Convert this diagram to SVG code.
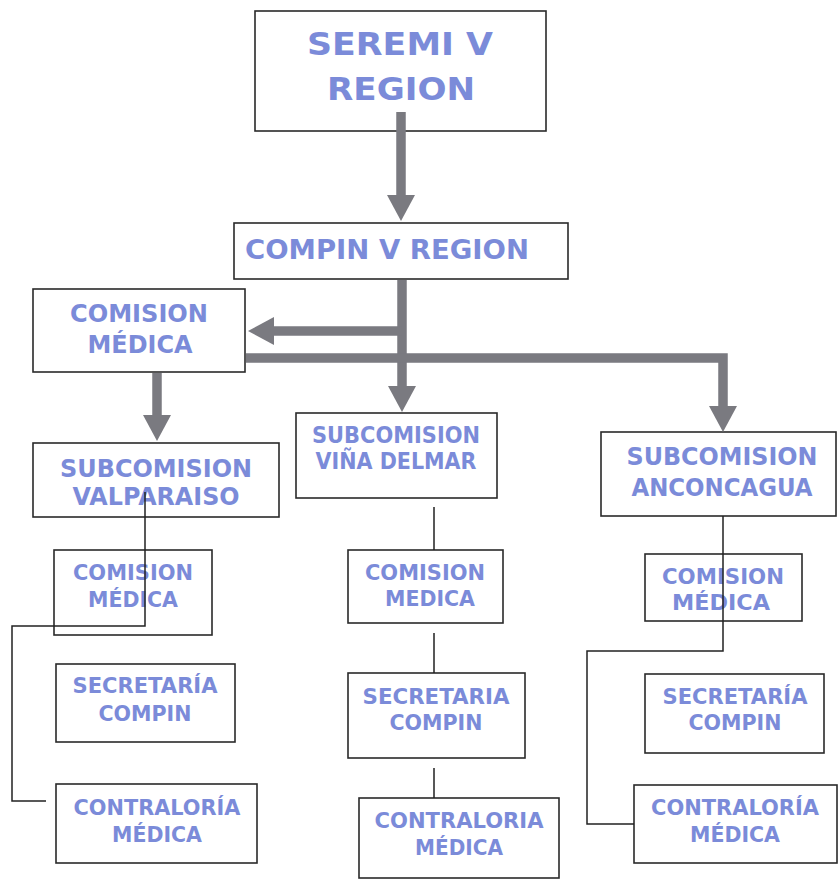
<svg xmlns="http://www.w3.org/2000/svg" width="838" height="880" viewBox="0 0 838 880">
<style>
.box{fill:#fff;stroke:#2a2a2a;stroke-width:1.6}
.t{font-family:"DejaVu Sans","Liberation Sans",sans-serif;font-weight:bold;fill:#7b8bd9;text-anchor:middle}
.big{stroke:#7a7a80;stroke-width:9.5;fill:none;stroke-linejoin:miter}
.thin{stroke:#222;stroke-width:1.5;fill:none}
</style>
<defs>
<marker id="ah" markerUnits="userSpaceOnUse" viewBox="0 0 26 28" markerWidth="26" markerHeight="28" refX="0" refY="14" orient="auto">
<path d="M0,0 L26,14 L0,28 Z" fill="#7a7a80"/>
</marker>
</defs>
<rect width="838" height="880" fill="#fff"/>
<g id="seremi">
<rect class="box" x="255" y="11" width="291" height="120"/>
<text class="t" x="400" y="55" font-size="32" textLength="186" lengthAdjust="spacingAndGlyphs">SEREMI V</text>
<text class="t" x="401" y="100" font-size="32" textLength="148" lengthAdjust="spacingAndGlyphs">REGION</text>
</g>
<g id="compin">
<rect class="box" x="234" y="223" width="334" height="56"/>
<text class="t" x="387" y="259" font-size="27" textLength="284" lengthAdjust="spacingAndGlyphs">COMPIN V REGION</text>
</g>
<g id="comision-top">
<rect class="box" x="33" y="289" width="212" height="83"/>
<text class="t" x="139" y="322" font-size="25" textLength="138" lengthAdjust="spacingAndGlyphs">COMISION</text>
<text class="t" x="140" y="353" font-size="25" textLength="105" lengthAdjust="spacingAndGlyphs">MÉDICA</text>
</g>
<g id="sub-valparaiso">
<rect class="box" x="33" y="443" width="246" height="74"/>
<text class="t" x="156" y="477" font-size="25" textLength="192" lengthAdjust="spacingAndGlyphs">SUBCOMISION</text>
<text class="t" x="156" y="505" font-size="25" textLength="167" lengthAdjust="spacingAndGlyphs">VALPARAISO</text>
</g>
<g id="sub-vina">
<rect class="box" x="296" y="413" width="201" height="85"/>
<text class="t" x="396" y="443" font-size="23" textLength="168" lengthAdjust="spacingAndGlyphs">SUBCOMISION</text>
<text class="t" x="396" y="469" font-size="23" textLength="161" lengthAdjust="spacingAndGlyphs">VIÑA DELMAR</text>
</g>
<g id="sub-anconcagua">
<rect class="box" x="601" y="432" width="235" height="84"/>
<text class="t" x="722" y="465" font-size="25" textLength="191" lengthAdjust="spacingAndGlyphs">SUBCOMISION</text>
<text class="t" x="722" y="496" font-size="25" textLength="181" lengthAdjust="spacingAndGlyphs">ANCONCAGUA</text>
</g>
<g id="v-comision">
<rect class="box" x="54" y="550" width="158" height="85"/>
<text class="t" x="133" y="580" font-size="21" textLength="120" lengthAdjust="spacingAndGlyphs">COMISION</text>
<text class="t" x="133" y="607" font-size="21" textLength="90" lengthAdjust="spacingAndGlyphs">MÉDICA</text>
</g>
<g id="v-secretaria">
<rect class="box" x="56" y="664" width="179" height="78"/>
<text class="t" x="145" y="693" font-size="21" textLength="145" lengthAdjust="spacingAndGlyphs">SECRETARÍA</text>
<text class="t" x="145" y="721" font-size="21" textLength="93" lengthAdjust="spacingAndGlyphs">COMPIN</text>
</g>
<g id="v-contraloria">
<rect class="box" x="56" y="784" width="201" height="79"/>
<text class="t" x="157" y="815" font-size="21" textLength="167" lengthAdjust="spacingAndGlyphs">CONTRALORÍA</text>
<text class="t" x="157" y="842" font-size="21" textLength="90" lengthAdjust="spacingAndGlyphs">MÉDICA</text>
</g>
<g id="vd-comision">
<rect class="box" x="348" y="550" width="155" height="73"/>
<text class="t" x="425" y="580" font-size="21" textLength="120" lengthAdjust="spacingAndGlyphs">COMISION</text>
<text class="t" x="430" y="606" font-size="21" textLength="90" lengthAdjust="spacingAndGlyphs">MEDICA</text>
</g>
<g id="vd-secretaria">
<rect class="box" x="348" y="673" width="177" height="85"/>
<text class="t" x="436" y="704" font-size="21" textLength="147" lengthAdjust="spacingAndGlyphs">SECRETARIA</text>
<text class="t" x="436" y="730" font-size="21" textLength="93" lengthAdjust="spacingAndGlyphs">COMPIN</text>
</g>
<g id="vd-contraloria">
<rect class="box" x="359" y="798" width="200" height="80"/>
<text class="t" x="459" y="828" font-size="21" textLength="169" lengthAdjust="spacingAndGlyphs">CONTRALORIA</text>
<text class="t" x="459" y="855" font-size="21" textLength="88" lengthAdjust="spacingAndGlyphs">MÉDICA</text>
</g>
<g id="a-comision">
<rect class="box" x="645" y="554" width="157" height="67"/>
<text class="t" x="723" y="584" font-size="21" textLength="122" lengthAdjust="spacingAndGlyphs">COMISION</text>
<text class="t" x="721" y="610" font-size="21" textLength="98" lengthAdjust="spacingAndGlyphs">MÉDICA</text>
</g>
<g id="a-secretaria">
<rect class="box" x="645" y="674" width="179" height="79"/>
<text class="t" x="735" y="704" font-size="21" textLength="145" lengthAdjust="spacingAndGlyphs">SECRETARÍA</text>
<text class="t" x="735" y="730" font-size="21" textLength="93" lengthAdjust="spacingAndGlyphs">COMPIN</text>
</g>
<g id="a-contraloria">
<rect class="box" x="634" y="785" width="203" height="78"/>
<text class="t" x="735" y="815" font-size="21" textLength="168" lengthAdjust="spacingAndGlyphs">CONTRALORÍA</text>
<text class="t" x="735" y="842" font-size="21" textLength="90" lengthAdjust="spacingAndGlyphs">MÉDICA</text>
</g>
<g id="connectors">
<path class="big" d="M401,112 V195" marker-end="url(#ah)"/>
<path class="big" d="M402,280 V386" marker-end="url(#ah)"/>
<path class="big" d="M402,331 H274" marker-end="url(#ah)"/>
<path class="big" d="M157,373 V415" marker-end="url(#ah)"/>
<path class="big" d="M246,358 H723 V406" marker-end="url(#ah)"/>
<path class="thin" d="M145,492 V626 H12 V801 H46"/>
<path class="thin" d="M434,507 V550 M434,633 V673 M434,768 V798"/>
<path class="thin" d="M723,516 V651 H587 V824 H634"/>
</g>
</svg>
